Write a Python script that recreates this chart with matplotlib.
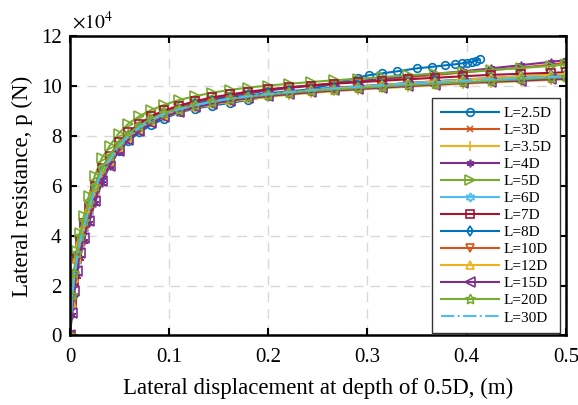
import matplotlib
matplotlib.use("Agg")
import matplotlib.pyplot as plt

plt.rcParams['font.family'] = ['Liberation Serif', 'DejaVu Serif']
plt.rcParams['mathtext.fontset'] = 'stix'

# displacement grid (m)
disp = [0, 0.002, 0.004, 0.007, 0.010, 0.014, 0.019, 0.025, 0.032, 0.040, 0.049,
        0.059, 0.070, 0.082, 0.095, 0.110, 0.126, 0.143, 0.161, 0.180, 0.200,
        0.221, 0.243, 0.266, 0.290, 0.315, 0.341, 0.368, 0.396, 0.425, 0.455,
        0.485, 0.500]
disp_25 = [0, 0.002, 0.004, 0.007, 0.010, 0.014, 0.019, 0.025, 0.032, 0.040, 0.049,
           0.059, 0.070, 0.082, 0.095, 0.110, 0.126, 0.143, 0.161, 0.180, 0.200,
           0.221, 0.243, 0.266, 0.290, 0.302, 0.315, 0.330, 0.350, 0.365, 0.378,
           0.388, 0.395, 0.400, 0.405, 0.409, 0.413]

# lateral resistance (x 1e4 N)
p_25 = [0, 1.4, 2.4, 3.2, 3.9, 4.5, 5.1, 5.8, 6.4, 6.9, 7.4, 7.8, 8.15, 8.45, 8.7, 8.95,
        9.1, 9.22, 9.33, 9.45, 9.6, 9.75, 9.9, 10.1, 10.35, 10.45, 10.52, 10.6, 10.72,
        10.78, 10.84, 10.88, 10.92, 10.95, 10.98, 11.02, 11.08]
p_3 = [0, 1.3, 2.3, 3.1, 3.8, 4.4, 5.1, 5.9, 6.6, 7.1, 7.7, 8.1, 8.45, 8.75, 8.98, 9.18,
       9.36, 9.5, 9.63, 9.74, 9.85, 9.95, 10.04, 10.12, 10.2, 10.28, 10.36, 10.45, 10.55,
       10.65, 10.75, 10.87, 10.95]
p_35 = [0, 1.1, 2.0, 2.9, 3.6, 4.2, 4.9, 5.7, 6.4, 6.9, 7.5, 7.9, 8.25, 8.55, 8.78, 8.97,
        9.13, 9.27, 9.38, 9.48, 9.57, 9.66, 9.73, 9.8, 9.86, 9.92, 9.98, 10.04, 10.1,
        10.15, 10.2, 10.25, 10.28]
p_4 = [0, 0.8, 1.6, 2.4, 3.1, 3.8, 4.5, 5.3, 6.1, 6.8, 7.4, 7.9, 8.3, 8.62, 8.88, 9.1,
       9.3, 9.47, 9.6, 9.72, 9.83, 9.93, 10.02, 10.11, 10.2, 10.3, 10.4, 10.5, 10.6,
       10.72, 10.85, 10.98, 11.05]
p_5 = [0, 1.5, 2.5, 3.4, 4.1, 4.8, 5.6, 6.4, 7.1, 7.6, 8.1, 8.5, 8.8, 9.05, 9.25, 9.45,
       9.6, 9.74, 9.85, 9.95, 10.03, 10.1, 10.17, 10.24, 10.3, 10.37, 10.44, 10.51, 10.58,
       10.65, 10.73, 10.82, 10.88]
p_6 = [0, 1.2, 2.1, 3.0, 3.7, 4.3, 5.0, 5.8, 6.5, 7.0, 7.55, 7.95, 8.3, 8.6, 8.85, 9.05,
       9.22, 9.36, 9.48, 9.58, 9.68, 9.76, 9.84, 9.91, 9.98, 10.05, 10.12, 10.19, 10.26,
       10.32, 10.38, 10.44, 10.46]
p_7 = [0, 1.3, 2.2, 3.1, 3.8, 4.5, 5.2, 6.0, 6.7, 7.2, 7.75, 8.15, 8.5, 8.8, 9.03, 9.22,
       9.4, 9.55, 9.67, 9.78, 9.88, 9.96, 10.03, 10.1, 10.16, 10.22, 10.28, 10.34, 10.4,
       10.46, 10.5, 10.54, 10.56]
p_8 = [0, 1.4, 2.3, 3.1, 3.8, 4.4, 5.1, 5.9, 6.6, 7.05, 7.6, 8.0, 8.35, 8.65, 8.9, 9.1,
       9.27, 9.41, 9.53, 9.63, 9.72, 9.8, 9.87, 9.94, 10.0, 10.06, 10.13, 10.2, 10.27,
       10.33, 10.4, 10.46, 10.5]
p_10 = [0, 1.2, 2.1, 2.9, 3.6, 4.2, 4.9, 5.7, 6.4, 6.9, 7.5, 7.9, 8.25, 8.55, 8.8, 9.0,
        9.17, 9.31, 9.43, 9.53, 9.62, 9.7, 9.77, 9.84, 9.9, 9.96, 10.02, 10.08, 10.14,
        10.2, 10.25, 10.3, 10.33]
p_12 = [0, 1.3, 2.3, 3.1, 3.8, 4.4, 5.1, 5.8, 6.5, 7.0, 7.55, 7.95, 8.3, 8.6, 8.84, 9.04,
        9.2, 9.34, 9.46, 9.56, 9.66, 9.75, 9.83, 9.91, 9.98, 10.05, 10.12, 10.19, 10.26,
        10.33, 10.4, 10.46, 10.5]
p_15 = [0, 0.9, 1.8, 2.6, 3.3, 3.9, 4.6, 5.4, 6.2, 6.8, 7.4, 7.85, 8.2, 8.52, 8.78, 8.98,
        9.15, 9.3, 9.42, 9.52, 9.61, 9.69, 9.76, 9.83, 9.89, 9.95, 10.01, 10.07, 10.13,
        10.18, 10.23, 10.28, 10.3]
p_20 = [0, 1.6, 2.5, 3.3, 4.0, 4.6, 5.3, 6.0, 6.7, 7.2, 7.7, 8.1, 8.42, 8.7, 8.92, 9.1,
        9.25, 9.38, 9.49, 9.58, 9.66, 9.74, 9.81, 9.87, 9.93, 9.99, 10.05, 10.1, 10.16,
        10.22, 10.28, 10.34, 10.36]
p_30 = [0, 1.3, 2.2, 3.0, 3.7, 4.35, 5.05, 5.85, 6.55, 7.05, 7.6, 8.0, 8.35, 8.65, 8.88,
        9.08, 9.24, 9.38, 9.5, 9.6, 9.69, 9.77, 9.85, 9.92, 9.98, 10.04, 10.1, 10.16,
        10.22, 10.28, 10.33, 10.38, 10.4]

labels = ['L=2.5D', 'L=3D', 'L=3.5D', 'L=4D', 'L=5D', 'L=6D', 'L=7D', 'L=8D',
          'L=10D', 'L=12D', 'L=15D', 'L=20D', 'L=30D']
x_ticks = [0, 0.1, 0.2, 0.3, 0.4, 0.5]
x_tick_labels = ['0', '0.1', '0.2', '0.3', '0.4', '0.5']
y_ticks = [0, 2, 4, 6, 8, 10, 12]

series = [(disp_25, p_25), (disp, p_3), (disp, p_35), (disp, p_4), (disp, p_5),
          (disp, p_6), (disp, p_7), (disp, p_8), (disp, p_10), (disp, p_12),
          (disp, p_15), (disp, p_20), (disp, p_30)]

colors = ['#0072BD', '#D95319', '#EDB120', '#7E2F8E', '#77AC30', '#4DBEEE', '#A2142F',
          '#0072BD', '#D95319', '#EDB120', '#7E2F8E', '#77AC30', '#4DBEEE']
markers = ['o', 'x', '+', (6, 2, 0), '>', (6, 1, 0), 's', 'd', 'v', '^', '<', (5, 1, 0), None]
msizes = [5.5, 4.5, 6.5, 5.5, 6.5, 6.5, 5.5, 5.5, 5.5, 5.5, 6.5, 7.5, 0]
styles = ['-'] * 12 + ['-.']

fig = plt.figure(figsize=(5.78, 4.05), dpi=100)
ax = fig.add_axes([0.121, 0.172, 0.858, 0.738])

for (xs, ys), c, m, ms, ls, lab in zip(series, colors, markers, msizes, styles, labels):
    if m is None:
        ax.plot(xs, ys, ls, color=c, lw=1.5, label=lab)
    else:
        filled = m in ('x', '+') or (isinstance(m, tuple) and m[1] == 2)
        ax.plot(xs, ys, ls, color=c, lw=1.5, marker=m, markersize=ms,
                markerfacecolor=(c if filled else 'none'), markeredgecolor=c,
                markeredgewidth=1.2, label=lab)

ax.set_xlim(0, 0.5)
ax.set_ylim(0, 12)
ax.set_xticks(x_ticks)
ax.set_xticklabels(x_tick_labels)
ax.set_yticks(y_ticks)
ax.grid(True, linestyle=(0, (7, 5)), color='#d8d8d8', lw=1.0)
ax.set_axisbelow(True)
ax.tick_params(direction='in', top=True, right=True, length=5, width=1.5,
               labelsize=15, colors='black', pad=6)
ax.tick_params(axis='x', pad=9)
for s in ax.spines.values():
    s.set_linewidth(1.8)
    s.set_color('black')

ax.set_xlabel('Lateral displacement at depth of 0.5D, (m)', fontsize=16.5, labelpad=8)
ax.set_ylabel('Lateral resistance, p (N)', fontsize=16.5, labelpad=6)
ax.text(0.005, 1.012, r'$\times 10^4$', transform=ax.transAxes, fontsize=14,
        ha='left', va='bottom')

leg = ax.legend(loc='lower right', bbox_to_anchor=(0.988, 0.008), fontsize=11,
                handlelength=3.8, labelspacing=0.22, borderpad=0.55, handletextpad=0.3,
                fancybox=False, framealpha=1, edgecolor='#333333', borderaxespad=0)
leg.get_frame().set_linewidth(1.0)

fig.savefig('out.png', dpi=100)
